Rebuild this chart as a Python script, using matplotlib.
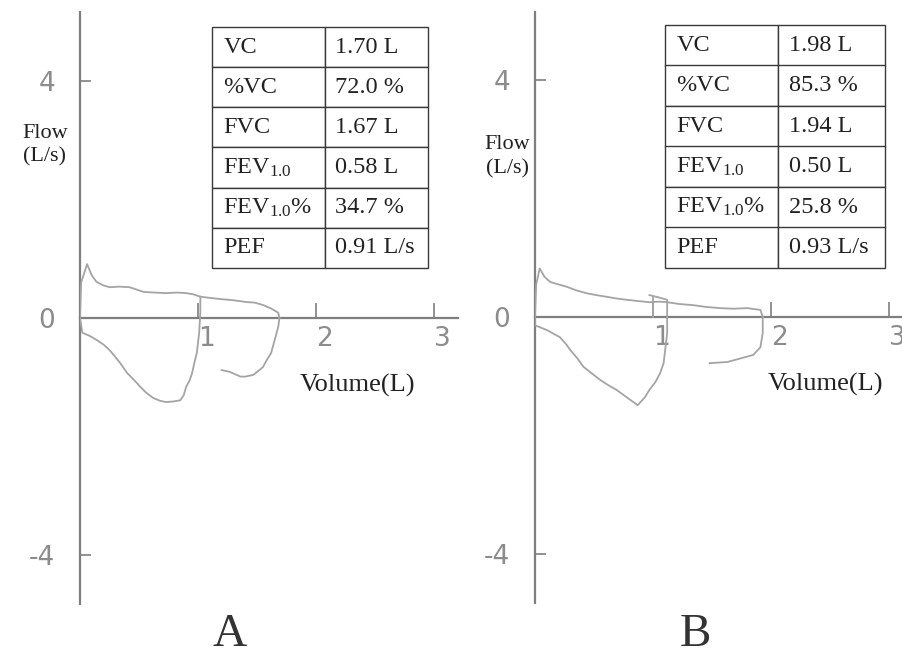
import matplotlib
matplotlib.use("Agg")
import matplotlib.pyplot as plt

plt.rcParams['font.family'] = ['Liberation Serif', 'DejaVu Serif']
plt.rcParams['mathtext.fontset'] = 'custom'
plt.rcParams['mathtext.rm'] = 'Liberation Serif'
plt.rcParams['mathtext.default'] = 'regular'

# ---- data ----
# panel A traces (volume L, flow L/s)
vol_a_exp = [0.00, 0.01, 0.06, 0.10, 0.14, 0.20, 0.25, 0.33, 0.42, 0.48, 0.54, 0.63, 0.73,
             0.82, 0.90, 0.96, 1.02, 1.10, 1.19, 1.30, 1.41, 1.48, 1.55, 1.62, 1.68, 1.69]
flow_a_exp = [0.00, 0.60, 0.91, 0.72, 0.61, 0.55, 0.52, 0.53, 0.52, 0.48, 0.44, 0.43, 0.42,
              0.43, 0.42, 0.40, 0.36, 0.34, 0.32, 0.30, 0.27, 0.26, 0.22, 0.16, 0.09, 0.00]
vol_a_insp = [0.00, 0.02, 0.08, 0.14, 0.20, 0.25, 0.30, 0.34, 0.40, 0.45, 0.51, 0.56, 0.62,
              0.68, 0.73, 0.79, 0.85, 0.88, 0.90, 0.93, 0.95, 0.97, 0.99, 1.01, 1.02, 1.02]
flow_a_insp = [0.00, -0.25, -0.30, -0.37, -0.45, -0.54, -0.66, -0.76, -0.93, -1.03, -1.16, -1.26, -1.35,
               -1.40, -1.42, -1.41, -1.39, -1.30, -1.16, -1.05, -0.93, -0.75, -0.59, -0.25, 0.10, 0.36]
vol_a_end = [1.69, 1.68, 1.65, 1.62, 1.58, 1.55, 1.47, 1.40, 1.36, 1.27, 1.20]
flow_a_end = [0.00, -0.15, -0.37, -0.59, -0.72, -0.83, -0.96, -0.99, -0.99, -0.91, -0.88]

# panel B traces
vol_b_exp = [0.00, 0.01, 0.04, 0.08, 0.13, 0.20, 0.27, 0.35, 0.44, 0.52, 0.61, 0.70, 0.78,
             0.87, 0.97, 1.05, 1.12, 1.22, 1.34, 1.45, 1.57, 1.68, 1.80, 1.87, 1.91, 1.93]
flow_b_exp = [0.00, 0.55, 0.82, 0.68, 0.59, 0.55, 0.51, 0.45, 0.40, 0.37, 0.34, 0.31, 0.29,
              0.27, 0.25, 0.26, 0.25, 0.22, 0.20, 0.17, 0.15, 0.14, 0.15, 0.13, 0.12, 0.00]
vol_b_insp = [0.00, 0.00, 0.10, 0.21, 0.26, 0.30, 0.36, 0.41, 0.48, 0.55, 0.62, 0.69, 0.78,
              0.87, 0.93, 0.97, 1.02, 1.06, 1.09, 1.10, 1.12, 1.12, 1.05, 0.97]
flow_b_insp = [0.00, -0.14, -0.22, -0.34, -0.45, -0.56, -0.70, -0.84, -0.95, -1.06, -1.15, -1.23, -1.36,
               -1.49, -1.36, -1.23, -1.10, -0.95, -0.78, -0.61, -0.27, 0.29, 0.33, 0.37]
vol_b_mark = [1.00, 1.00]
flow_b_mark = [0.00, 0.33]
vol_b_end = [1.93, 1.93, 1.91, 1.85, 1.76, 1.63, 1.48]
flow_b_end = [0.00, -0.27, -0.51, -0.64, -0.69, -0.76, -0.78]

# tables
row_names = ['VC', '%VC', 'FVC', 'FEV$_{1.0}$', 'FEV$_{1.0}$%', 'PEF']
values_a = ['1.70 L', '72.0 %', '1.67 L', '0.58 L', '34.7 %', '0.91 L/s']
values_b = ['1.98 L', '85.3 %', '1.94 L', '0.50 L', '25.8 %', '0.93 L/s']

x_ticks = [1, 2, 3]
y_ticks = [-4, 0, 4]

W, H = 903, 657
fig = plt.figure(figsize=(W / 100, H / 100), dpi=100)

axis_col = '#7f7f7f'
trace_col = '#a4a4a4'
tick_txt = '#8c8c8c'
narrow = ['Liberation Sans Narrow', 'DejaVu Sans']


def make_panel(l, r, t, b, zero_px, traces, values, col_w, tbox, ylab_xy, xlab_xy, letter_x, letter):
    ax = fig.add_axes([l / W, 1 - b / H, (r - l) / W, (b - t) / H])
    sx, sy = 118.0, 59.2
    ax.set_xlim(0, (r - l) / sx)
    ax.set_ylim(-(b - zero_px) / sy, (zero_px - t) / sy)
    for s in ['top', 'right']:
        ax.spines[s].set_visible(False)
    ax.spines['left'].set_position(('data', 0))
    ax.spines['bottom'].set_position(('data', 0))
    for s in ['left', 'bottom']:
        ax.spines[s].set_color(axis_col)
        ax.spines[s].set_linewidth(1.6)
    ax.patch.set_visible(False)

    for xs, ys in traces:
        ax.plot(xs, ys, color=trace_col, lw=1.3, zorder=3)

    ax.set_xticks(x_ticks)
    ax.set_xticklabels([str(v) for v in x_ticks], ha='left')
    ax.set_yticks(y_ticks)
    ax.set_yticklabels([str(v) for v in y_ticks])
    ax.tick_params(axis='x', direction='in', length=11, width=1.2, color=axis_col,
                   pad=6, labelsize=19, labelcolor=tick_txt, labelfontfamily=narrow)
    ax.tick_params(axis='y', direction='in', length=8, width=1.2, color=axis_col,
                   pad=18, labelsize=19, labelcolor=tick_txt, labelfontfamily=narrow)

    ax.set_ylabel('Flow\n(L/s)', rotation=0, fontsize=16, linespacing=1.35,
                  ha='center', va='center', color='#222222')
    ax.yaxis.set_label_coords(*ylab_xy)
    ax.set_xlabel('Volume(L)', fontsize=19, color='#222222')
    ax.xaxis.set_label_coords(*xlab_xy)
    ax.xaxis.label.set_va('center')

    tab = ax.table(cellText=[[n, v] for n, v in zip(row_names, values)],
                   colWidths=col_w, cellLoc='left', bbox=tbox, zorder=4)
    tab.auto_set_font_size(False)
    tab.set_fontsize(17.5)
    for cell in tab.get_celld().values():
        cell.set_edgecolor('#3a3a3a')
        cell.set_linewidth(1.0)
        cell.get_text().set_color('#222222')

    # panel letter, baseline kept just above the bottom edge
    ax.text(letter_x, (b - 646) / (b - t), letter, transform=ax.transAxes, ha='center',
            va='baseline', fontsize=34, color='#333333')
    return ax


make_panel(80, 458, 12, 604, 318,
           [(vol_a_exp, flow_a_exp), (vol_a_insp, flow_a_insp), (vol_a_end, flow_a_end)],
           values_a, [113, 103],
           [(212 - 80) / 378, (604 - 268) / 592, (428 - 212) / 378, (268 - 27) / 592],
           (-0.093, 0.775), (0.735, 0.37), 0.397, 'A')

make_panel(535, 903, 12, 603, 317,
           [(vol_b_exp, flow_b_exp), (vol_b_insp, flow_b_insp), (vol_b_mark, flow_b_mark),
            (vol_b_end, flow_b_end)],
           values_b, [113, 107],
           [(665 - 535) / 368, (603 - 268) / 591, (885 - 665) / 368, (268 - 25) / 591],
           (-0.076, 0.755), (0.788, 0.37), 0.435, 'B')

fig.savefig('out.png', dpi=100)
